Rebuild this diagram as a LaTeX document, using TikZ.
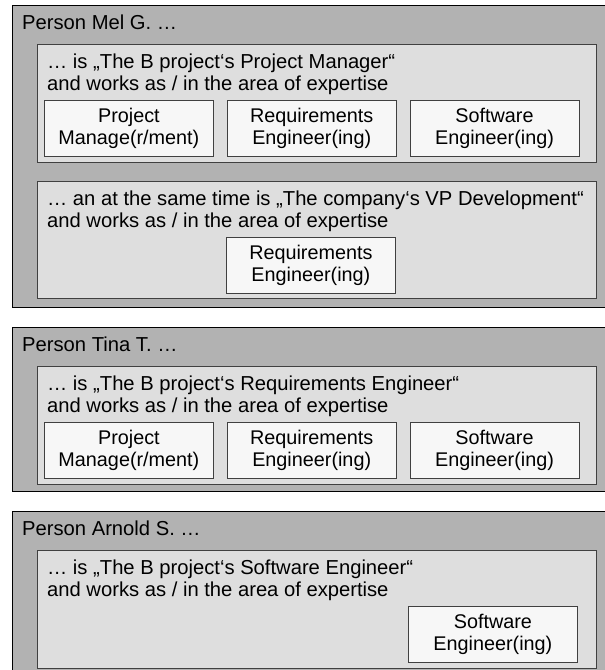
\documentclass[tikz,border=0pt]{standalone}
\usepackage{fontspec}
\setmainfont{Liberation Sans}
\usepackage{xcolor}
\usepackage{tikz}
\usetikzlibrary{positioning}
\definecolor{persongray}{gray}{0.70}
\definecolor{rolegray}{gray}{0.87}
\definecolor{areawhite}{gray}{0.97}
\definecolor{rimgray}{gray}{0.25}
\tikzstyle{person}=[rectangle, draw=black, fill=persongray, anchor=north west,
        minimum width=620pt, inner sep=0pt, line width=0.8pt]
\tikzstyle{role}=[rectangle, draw=rimgray, fill=rolegray, anchor=north west,
        minimum width=559pt, minimum height=118pt, inner sep=0pt, line width=1pt]
\tikzstyle{area}=[rectangle, draw=rimgray, fill=areawhite, minimum width=169pt,
        minimum height=56pt, inner sep=0pt, align=center, line width=0.8pt,
        font=\fontsize{19.8}{22}\selectfont]
\tikzstyle{caption}=[anchor=north west, inner sep=0pt, align=left,
        font=\fontsize{20.2}{21.5}\selectfont]

\begin{document}
\begin{tikzpicture}[x=1pt, y=1pt, node distance=13pt]
    \clip (0,0) rectangle (605,-670);
    % Mel
    \node (Mel) [person, minimum height=302pt] at (12,-5) {};
    \node (MelName) [caption] at ([shift={(10,-10)}]Mel.north west) {Person Mel G. …};
    \node (MelRole) [role] at ([shift={(25,-39)}]Mel.north west) {};
    \node (MelRoleText) [caption] at ([shift={(10,-10)}]MelRole.north west)
        {… is „The B project‘s Project Manager“\\and works as / in the area of expertise};
    \node (MelPM) [area, anchor=north west] at ([shift={(7,-56)}]MelRole.north west)
        {Project\\Manage(r/ment)};
    \node (MelRE) [area, right=of MelPM] {Requirements\\Engineer(ing)};
    \node (MelSE) [area, right=of MelRE] {Software\\Engineer(ing)};
    \node (MelVP) [role, minimum height=117pt] at ([yshift=-18]MelRole.south west) {};
    \node (MelVPText) [caption] at ([shift={(10,-10)}]MelVP.north west)
        {… an at the same time is „The company‘s VP Development“\\and works as / in the area of expertise};
    \node (MelVPRE) [area, anchor=north west] at ([shift={(189,-56)}]MelVP.north west)
        {Requirements\\Engineer(ing)};
    % Tina
    \node (Tina) [person, minimum height=164pt] at (12,-327) {};
    \node (TinaName) [caption] at ([shift={(10,-10)}]Tina.north west) {Person Tina T. …};
    \node (TinaRole) [role] at ([shift={(25,-39)}]Tina.north west) {};
    \node (TinaRoleText) [caption] at ([shift={(10,-10)}]TinaRole.north west)
        {… is „The B project‘s Requirements Engineer“\\and works as / in the area of expertise};
    \node (TinaPM) [area, anchor=north west] at ([shift={(7,-56)}]TinaRole.north west)
        {Project\\Manage(r/ment)};
    \node (TinaRE) [area, right=of TinaPM] {Requirements\\Engineer(ing)};
    \node (TinaSE) [area, right=of TinaRE] {Software\\Engineer(ing)};
    % Arnold
    \node (Arnold) [person, minimum height=200pt] at (12,-511) {};
    \node (ArnoldName) [caption] at ([shift={(10,-10)}]Arnold.north west) {Person Arnold S. …};
    \node (ArnoldRole) [role] at ([shift={(25,-39)}]Arnold.north west) {};
    \node (ArnoldRoleText) [caption] at ([shift={(10,-10)}]ArnoldRole.north west)
        {… is „The B project‘s Software Engineer“\\and works as / in the area of expertise};
    \node (ArnoldSE) [area, anchor=north west] at ([shift={(371,-56)}]ArnoldRole.north west)
        {Software\\Engineer(ing)};
\end{tikzpicture}
\end{document}
